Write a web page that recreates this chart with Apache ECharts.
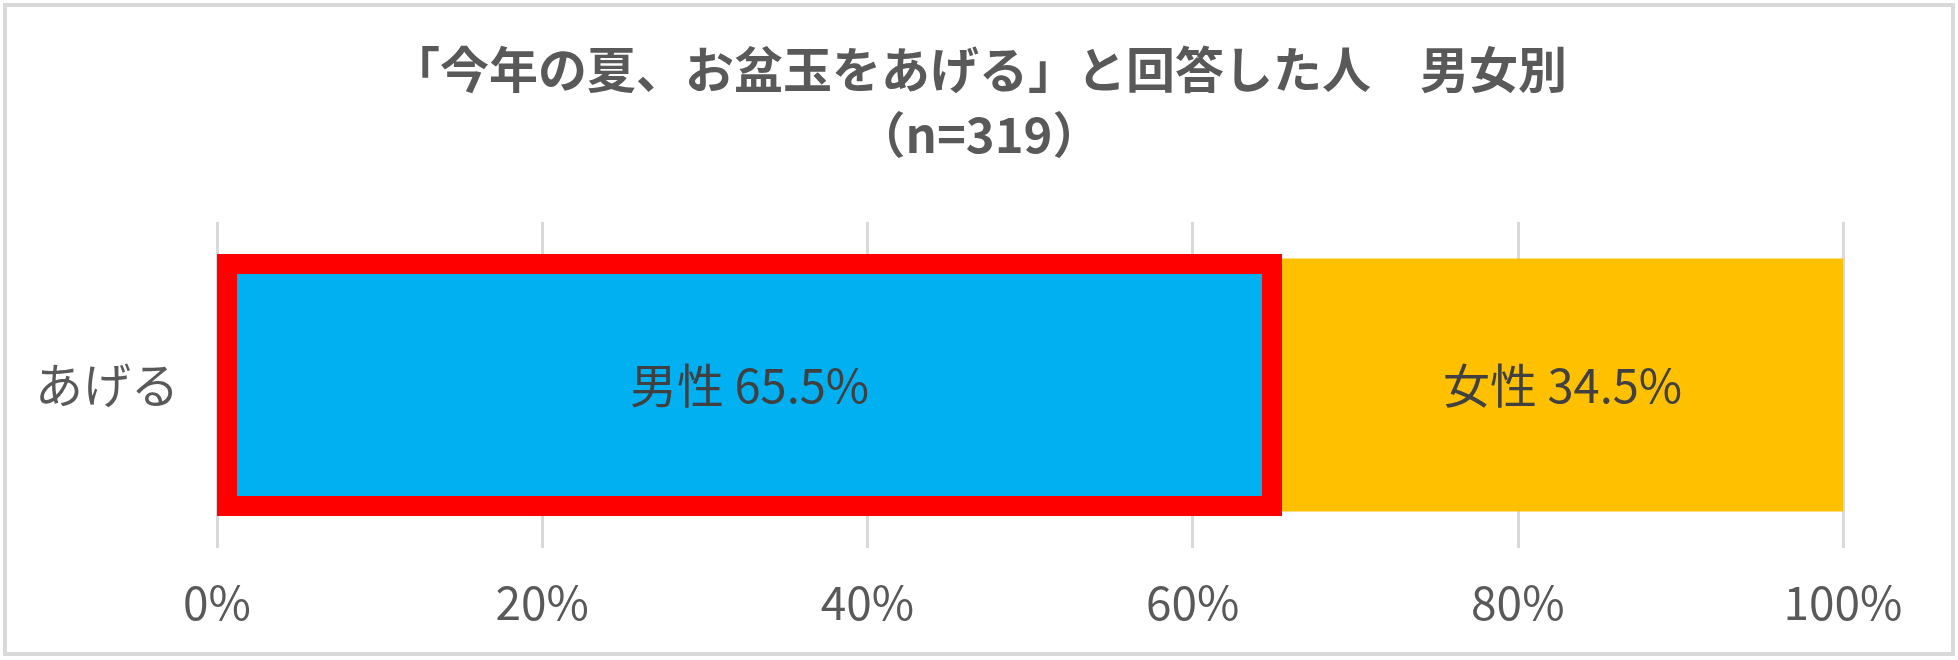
<!DOCTYPE html>
<html>
<head>
<meta charset="utf-8">
<script src="https://cdn.jsdelivr.net/npm/echarts@6/dist/echarts.min.js"></script>
<style>
html,body{margin:0;padding:0;background:#fff;}
#c{width:1958px;height:660px;}
</style>
</head>
<body>
<div id="c"></div>
<script>
var titleLines = ['「今年の夏、お盆玉をあげる」と回答した人　男女別', '（n=319）'];
var categories = ['あげる'];
var maleName = '男性';
var femaleName = '女性';
var maleValues = [65.5];
var femaleValues = [34.5];
var xTicks = [0, 20, 40, 60, 80, 100];

var FONT = '"Noto Sans CJK JP", "Noto Sans", sans-serif';
var chart = echarts.init(document.getElementById('c'), null, {renderer: 'canvas'});

var option = {
  backgroundColor: '#fff',
  animation: false,
  title: {
    text: titleLines.join('\n'),
    left: 'center',
    top: 32,
    textStyle: {
      fontFamily: FONT,
      fontSize: 49,
      fontWeight: 'bold',
      color: '#595959',
      lineHeight: 65
    }
  },
  graphic: [{
    type: 'rect',
    shape: {x: 5, y: 5, width: 1948, height: 649},
    style: {fill: 'none', stroke: '#d9d9d9', lineWidth: 4},
    silent: true,
    z: 100
  }],
  grid: {left: 217, right: 115, top: 222, bottom: 112, containLabel: false},
  xAxis: {
    type: 'value',
    min: 0,
    max: 100,
    interval: 20,
    axisLine: {show: false},
    axisTick: {show: false},
    splitLine: {show: true, lineStyle: {color: '#d9d9d9', width: 3}},
    axisLabel: {
      margin: 32,
      fontFamily: FONT,
      fontSize: 46,
      color: '#595959',
      formatter: function (v) { return xTicks.indexOf(v) >= 0 ? v + '%' : ''; }
    }
  },
  yAxis: [{
    type: 'category',
    data: categories,
    axisLine: {show: false},
    axisTick: {show: false},
    axisLabel: {
      margin: 38,
      fontFamily: FONT,
      fontSize: 48,
      color: '#595959'
    }
  }],
  series: [
    {
      name: maleName,
      type: 'bar',
      stack: 'total',
      data: maleValues,
      barWidth: 253,
      itemStyle: {color: '#00B0F0'},
      label: {
        show: true,
        position: 'inside',
        fontFamily: FONT,
        fontSize: 47,
        color: '#404040',
        formatter: function (p) { return p.seriesName + ' ' + p.value + '%'; }
      }
    },
    {
      name: femaleName,
      type: 'bar',
      stack: 'total',
      data: femaleValues,
      barWidth: 253,
      itemStyle: {color: '#FFC000'},
      label: {
        show: true,
        position: 'inside',
        fontFamily: FONT,
        fontSize: 47,
        color: '#404040',
        formatter: function (p) { return p.seriesName + ' ' + p.value + '%'; }
      }
    },
    {
      name: 'highlight',
      type: 'custom',
      data: maleValues.map(function (v, i) { return [v, i]; }),
      z: 10,
      silent: true,
      renderItem: function (params, api) {
        var val = api.value(0);
        var idx = api.value(1);
        var p0 = api.coord([0, idx]);
        var p1 = api.coord([val, idx]);
        var band = 253;
        var lw = 20;
        var extra = 4.5;
        var top = p0[1] - band / 2 - extra;
        var h = band + 2 * extra;
        return {
          type: 'rect',
          shape: {
            x: p0[0] + lw / 2,
            y: top + lw / 2,
            width: p1[0] - p0[0] - lw,
            height: h - lw
          },
          style: {fill: 'none', stroke: '#FF0000', lineWidth: lw}
        };
      }
    }
  ]
};
chart.setOption(option);
</script>
</body>
</html>
